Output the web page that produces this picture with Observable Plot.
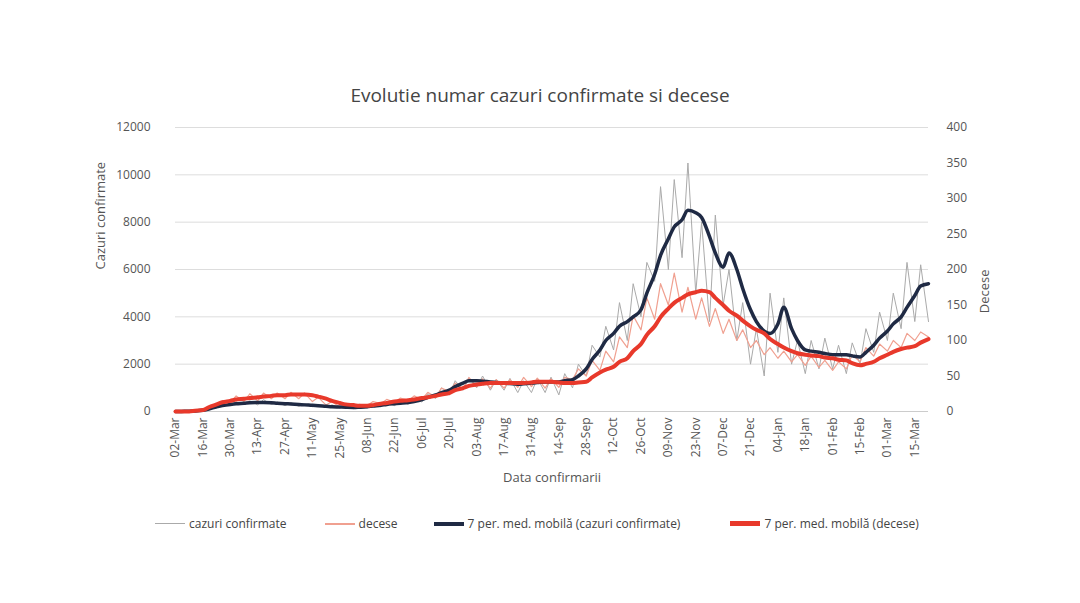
<!DOCTYPE html>
<html><head><meta charset="utf-8">
<script src="https://cdn.jsdelivr.net/npm/d3@7"></script>
<script src="https://cdn.jsdelivr.net/npm/@observablehq/plot@0.6"></script>
<style>
body{margin:0;font-family:"Open Sans",sans-serif;background:#fff;}
#wrap{position:relative;width:1080px;height:603px;}
#title{position:absolute;top:82px;left:0;width:1080px;text-align:center;font-size:19px;color:#444;}
#legend{position:absolute;top:515px;left:155px;font-size:12px;color:#444;display:flex;gap:0;}
#legend span{display:inline-flex;align-items:center;margin-right:30px;}
#legend i{display:inline-block;width:30px;margin-right:4px;}
</style></head><body>
<div id="wrap"><div id="title">Evolutie numar cazuri confirmate si decese</div><div id="chart"></div>
<div id="legend">
<span><i style="border-top:1.5px solid #aaa"></i>cazuri confirmate</span>
<span style="margin-left:8px"><i style="border-top:2px solid #f0a090"></i>decese</span>
<span style="margin-left:6px"><i style="border-top:4px solid #1f2a44"></i>7 per. med. mobilă (cazuri confirmate)</span>
<span style="margin-left:20px"><i style="border-top:5px solid #e8392b"></i>7 per. med. mobilă (decese)</span>
</div></div>
<script>
const start = new Date(2020,2,2);
// Monday / Thursday values per week starting 02-Mar-2020
const casesRawMon=[0,10,40,150,250,300,280,300,250,220,200,160,150,120,150,200,250,300,400,550,700,900,1000,900,900,800,800,800,700,1000,1500,2300,2600,3000,4000,5500,6000,6500,5000,3800,4500,3000,2000,1500,2500,2000,1600,1800,1800,1600,2000,2500,3000,3500,3800,3800];
const casesRawThu=[5,30,150,300,400,450,500,400,380,330,300,280,230,230,300,350,450,550,750,1000,1300,1400,1500,1350,1400,1300,1400,1450,1600,2000,2800,3600,4600,5400,6300,9500,9800,10500,8000,8300,6000,4600,3500,5000,4800,3000,3000,3100,2800,2900,3500,4200,5000,6300,6200];
const casesMaMon=[0,10,50,200,300,350,380,370,330,300,260,220,190,170,200,260,330,380,500,700,900,1200,1300,1250,1200,1150,1200,1250,1250,1350,1800,2600,3300,3800,4300,5800,7300,8100,8400,7400,6100,6000,4300,3400,3700,3500,2600,2500,2400,2400,2300,2800,3400,4000,4900,5400];
const casesMaThu=[5,20,100,250,330,370,380,350,320,280,240,200,180,180,230,300,350,420,600,800,1050,1300,1280,1230,1180,1170,1220,1250,1300,1500,2200,3000,3600,4000,5000,6600,7800,8500,8200,6700,6700,5200,3800,3300,4400,3000,2550,2450,2400,2350,2500,3100,3700,4400,5300];
const deathsRawMon=[0,0,1,8,12,14,15,18,18,18,14,9,6,6,8,11,13,15,17,20,28,32,35,33,33,34,35,33,34,45,50,58,70,90,115,130,150,140,130,120,110,100,90,80,75,70,65,62,58,60,70,78,85,90,100,105];
const deathsRawThu=[0,1,5,15,22,25,26,26,27,26,20,14,10,10,14,17,19,22,27,33,40,48,46,45,45,48,47,46,48,60,72,85,105,135,160,180,195,175,160,145,130,115,100,90,85,80,78,72,70,80,90,95,100,110,112];
const deathsMaMon=[0,0,2,10,15,18,20,22,23,24,23,18,12,9,8,11,14,16,19,22,26,33,38,40,40,40,41,42,41,40,42,55,63,75,95,120,145,160,168,168,150,135,120,110,95,85,80,78,75,72,65,70,80,88,92,102];
const deathsMaThu=[0,1,6,13,17,19,21,23,24,24,21,15,10,8,9,12,15,17,20,24,30,36,39,40,40,40,42,42,40,41,48,59,70,85,108,133,153,165,170,160,142,128,115,102,90,82,79,76,73,68,67,75,84,90,97];
const leftTicks=[0,2000,4000,6000,8000,10000,12000];
const rightTicks=[0,50,100,150,200,250,300,350,400];
const k=30;
function series(mon,thu,mult){const out=[];for(let i=0;i<mon.length;i++){out.push({d:d3.timeDay.offset(start,7*i),v:mon[i]*mult});if(i<thu.length)out.push({d:d3.timeDay.offset(start,7*i+3),v:thu[i]*mult});}return out;}
const cr=series(casesRawMon,casesRawThu,1), dr=series(deathsRawMon,deathsRawThu,k);
const cm=series(casesMaMon,casesMaThu,1), dm=series(deathsMaMon,deathsMaThu,k);
const xTicks=d3.range(0,28).map(i=>d3.timeDay.offset(start,14*i));
const fmt=d3.timeFormat("%d-%b");
const chart=Plot.plot({
 width:1080,height:603,marginLeft:175,marginRight:152,marginTop:127,marginBottom:192,
 style:{fontFamily:"Open Sans",fontSize:"12px",color:"#555"},
 x:{type:"utc",domain:[start,d3.timeDay.offset(start,385)]},
 y:{domain:[0,12000]},
 marks:[
  Plot.gridY(leftTicks,{stroke:"#ddd",strokeOpacity:1}),
  Plot.ruleY([0],{stroke:"#ccc"}),
  Plot.axisY(leftTicks,{anchor:"left",tickSize:0,tickPadding:25,tickFormat:d=>String(d),label:null}),
  Plot.axisY(rightTicks.map(t=>t*k),{anchor:"right",tickSize:0,tickPadding:18,tickFormat:d=>String(d/k),label:null}),
  Plot.axisX(xTicks,{tickRotate:-90,tickSize:0,tickPadding:6,tickFormat:fmt,label:null}),
  Plot.line(cr,{x:"d",y:"v",stroke:"#aaa",strokeWidth:1}),
  Plot.line(dr,{x:"d",y:"v",stroke:"#f0a090",strokeWidth:1.2}),
  Plot.line(cm,{x:"d",y:"v",stroke:"#1f2a44",strokeWidth:3.5,curve:"monotone-x"}),
  Plot.line(dm,{x:"d",y:"v",stroke:"#e8392b",strokeWidth:4,curve:"monotone-x"}),
  Plot.text(["Cazuri confirmate"],{frameAnchor:"left",dx:-75,rotate:-90,fontSize:13}),
  Plot.text(["Decese"],{frameAnchor:"right",dx:56,rotate:-90,fontSize:13}),
  Plot.text(["Data confirmarii"],{frameAnchor:"bottom",dy:70,fontSize:13})
 ]});
document.getElementById("chart").appendChild(chart);
</script></body></html>
